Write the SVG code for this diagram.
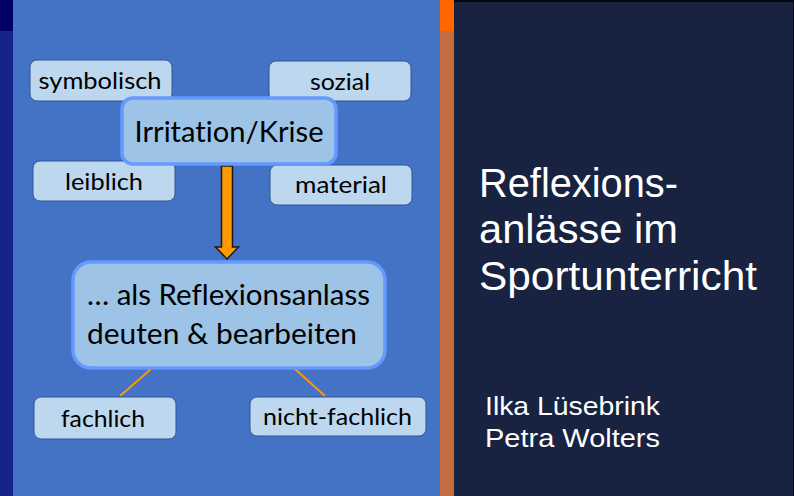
<svg xmlns="http://www.w3.org/2000/svg" width="794" height="496" viewBox="0 0 794 496">
<style>
.sm{fill:#BDD7EE;stroke:#2F5597;stroke-width:1;}
.big{fill:#9DC3E6;stroke:#6699FF;stroke-width:3.5;}
.t{font-family:Lato,"Open Sans","Liberation Sans",sans-serif;fill:#000;text-anchor:middle;font-variant-ligatures:none;font-feature-settings:"liga" 0;}
.ts{font-size:23px;}
.tb{font-size:29px;}
.w{font-family:"Liberation Sans","DejaVu Sans",sans-serif;fill:#fff;}
.con{stroke:#FF9900;stroke-width:2;fill:none;}
</style>
<rect x="0" y="0" width="794" height="496" fill="#4472C4"/>
<rect x="0" y="0" width="13" height="496" fill="#16238A"/>
<rect x="0" y="0" width="13" height="31" fill="#000066"/>
<rect x="440" y="0" width="14" height="496" fill="#C46B3F"/>
<rect x="440" y="0" width="14" height="31" fill="#FF6600"/>
<rect x="454" y="0" width="340" height="496" fill="#172341"/>
<rect x="454" y="0" width="340" height="2" fill="#05070f"/>
<rect x="793" y="0" width="1" height="496" fill="#05070f"/>

<g id="connectors">
<line class="con" x1="151" y1="369" x2="120" y2="396"/>
<line class="con" x1="295" y1="369" x2="325" y2="396"/>
<path d="M221.5,166 L232.5,166 L232.5,247 L238.5,247 L227,259 L215.5,247 L221.5,247 Z" fill="#FF9900" stroke="#1a1a1a" stroke-width="1.5" stroke-linejoin="miter"/>
</g>

<g id="symbolisch">
<rect class="sm" x="30" y="60" width="142" height="41" rx="7"/>
<text class="t ts" x="100" y="89" textLength="123" lengthAdjust="spacingAndGlyphs">symbolisch</text>
</g>
<g id="sozial">
<rect class="sm" x="269" y="61" width="142" height="40" rx="7"/>
<text class="t ts" x="340" y="90" textLength="60" lengthAdjust="spacingAndGlyphs">sozial</text>
</g>
<g id="leiblich">
<rect class="sm" x="33" y="161" width="142" height="40" rx="7"/>
<text class="t ts" x="104" y="190" textLength="78" lengthAdjust="spacingAndGlyphs">leiblich</text>
</g>
<g id="material">
<rect class="sm" x="270" y="165" width="142" height="40" rx="7"/>
<text class="t ts" x="341" y="193" textLength="92" lengthAdjust="spacingAndGlyphs">material</text>
</g>
<g id="irritation">
<rect class="big" x="122" y="98" width="214" height="66" rx="11"/>
<text class="t tb" x="229" y="142" textLength="189" lengthAdjust="spacingAndGlyphs">Irritation/Krise</text>
</g>
<g id="reflexionsanlass">
<rect class="big" x="73" y="262" width="312" height="106" rx="18"/>
<text class="t tb" x="228.5" y="305" textLength="283" lengthAdjust="spacingAndGlyphs">… als Reflexionsanlass</text>
<text class="t tb" x="222" y="344" textLength="270" lengthAdjust="spacingAndGlyphs">deuten &amp; bearbeiten</text>
</g>
<g id="fachlich">
<rect class="sm" x="34" y="397" width="142" height="42" rx="7"/>
<text class="t ts" x="103" y="427" textLength="84" lengthAdjust="spacingAndGlyphs">fachlich</text>
</g>
<g id="nicht-fachlich">
<rect class="sm" x="250" y="397" width="176" height="39" rx="7"/>
<text class="t ts" x="337.5" y="425" textLength="149" lengthAdjust="spacingAndGlyphs">nicht-fachlich</text>
</g>

<g id="title">
<text class="w" x="479" y="197" font-size="41" textLength="199" lengthAdjust="spacingAndGlyphs">Reflexions-</text>
<text class="w" x="479" y="243" font-size="41" textLength="199" lengthAdjust="spacingAndGlyphs">anlässe im</text>
<text class="w" x="479" y="290" font-size="41" textLength="278" lengthAdjust="spacingAndGlyphs">Sportunterricht</text>
</g>
<g id="authors">
<text class="w" x="485" y="415" font-size="25" textLength="175" lengthAdjust="spacingAndGlyphs">Ilka Lüsebrink</text>
<text class="w" x="485" y="447" font-size="25" textLength="175" lengthAdjust="spacingAndGlyphs">Petra Wolters</text>
</g>
</svg>
